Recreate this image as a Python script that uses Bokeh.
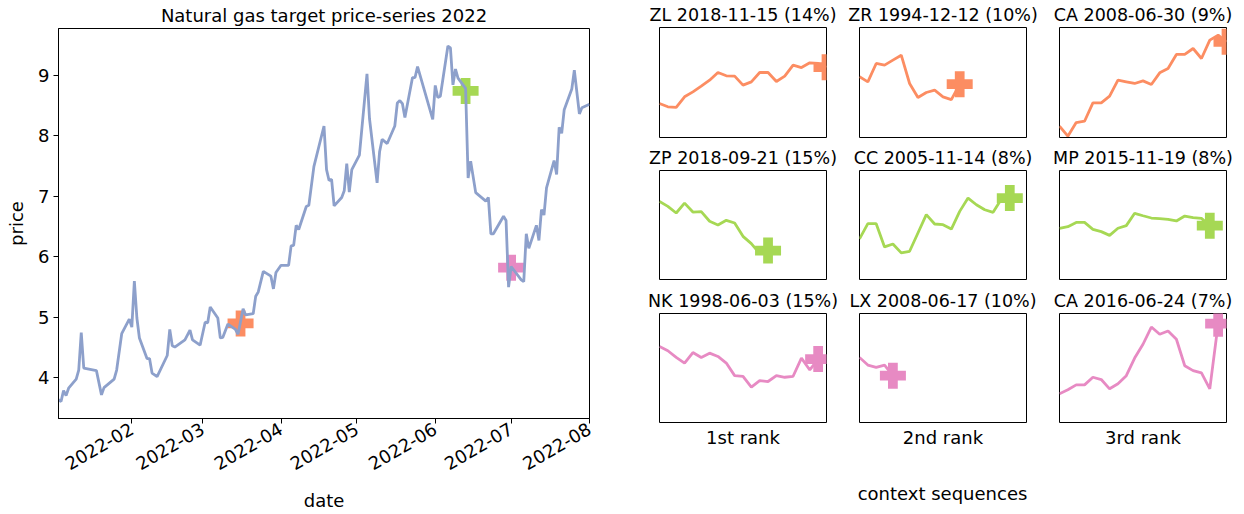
import math
import pandas as pd
from bokeh.plotting import figure
from bokeh.models import Range1d, FixedTicker, DatetimeTickFormatter, Title, Div
from bokeh.layouts import row, column
from bokeh.embed import file_html
from bokeh.resources import INLINE

FONT = "DejaVu Sans"
FS = "18px"
FS_SMALL_TITLE = "17.5px"

# ---------------- main target series ----------------
dates = ["2022-01-03", "2022-01-04", "2022-01-05", "2022-01-06", "2022-01-07", "2022-01-10",
         "2022-01-11", "2022-01-12", "2022-01-13", "2022-01-18", "2022-01-20", "2022-01-21",
         "2022-01-25", "2022-01-26", "2022-01-28", "2022-01-31", "2022-02-01", "2022-02-02",
         "2022-02-03", "2022-02-04", "2022-02-07", "2022-02-08", "2022-02-09", "2022-02-11",
         "2022-02-15", "2022-02-16", "2022-02-17", "2022-02-18", "2022-02-22", "2022-02-24",
         "2022-02-25", "2022-02-28", "2022-03-02", "2022-03-03", "2022-03-04", "2022-03-07",
         "2022-03-08", "2022-03-09", "2022-03-11", "2022-03-14", "2022-03-15", "2022-03-17",
         "2022-03-18", "2022-03-21", "2022-03-22", "2022-03-23", "2022-03-25", "2022-03-28",
         "2022-03-29", "2022-03-30", "2022-04-01", "2022-04-04", "2022-04-05", "2022-04-06",
         "2022-04-07", "2022-04-08", "2022-04-11", "2022-04-12", "2022-04-14", "2022-04-18",
         "2022-04-19", "2022-04-20", "2022-04-21", "2022-04-22", "2022-04-25", "2022-04-26",
         "2022-04-27", "2022-04-28", "2022-04-29", "2022-05-02", "2022-05-05", "2022-05-06",
         "2022-05-09", "2022-05-10", "2022-05-11", "2022-05-13", "2022-05-16", "2022-05-17",
         "2022-05-18", "2022-05-19", "2022-05-20", "2022-05-23", "2022-05-24", "2022-05-25",
         "2022-05-31", "2022-06-01", "2022-06-02", "2022-06-03", "2022-06-06", "2022-06-07",
         "2022-06-08", "2022-06-09", "2022-06-10", "2022-06-13", "2022-06-14", "2022-06-15",
         "2022-06-17", "2022-06-21", "2022-06-22", "2022-06-23", "2022-06-24", "2022-06-28",
         "2022-06-29", "2022-06-30", "2022-07-01", "2022-07-05", "2022-07-06", "2022-07-07",
         "2022-07-08", "2022-07-11", "2022-07-12", "2022-07-13", "2022-07-14", "2022-07-15",
         "2022-07-18", "2022-07-19", "2022-07-20", "2022-07-21", "2022-07-22", "2022-07-25",
         "2022-07-26", "2022-07-28", "2022-07-29", "2022-08-01"]
prices = [3.64, 3.61, 3.79, 3.71, 3.83, 3.98,
          4.13, 4.75, 4.16, 4.12, 3.72, 3.84,
          3.98, 4.13, 4.73, 4.97, 4.84, 5.60,
          4.99, 4.66, 4.32, 4.32, 4.08, 4.02,
          4.37, 4.80, 4.53, 4.51, 4.63, 4.79,
          4.63, 4.54, 4.92, 4.91, 5.17, 4.99,
          4.66, 4.67, 4.89, 4.80, 4.72, 5.14,
          5.04, 5.06, 5.35, 5.42, 5.76, 5.68,
          5.47, 5.74, 5.86, 5.86, 6.18, 6.19,
          6.52, 6.45, 6.83, 6.85, 7.49, 8.16,
          7.44, 7.26, 7.28, 6.84, 6.98, 7.09,
          7.54, 7.07, 7.44, 7.68, 9.02, 8.28,
          7.22, 7.74, 7.94, 7.87, 8.16, 8.54,
          8.58, 8.53, 8.30, 8.96, 8.96, 9.14,
          8.27, 8.83, 8.63, 8.65, 9.48, 9.45,
          8.84, 9.10, 8.95, 8.78, 7.30, 7.58,
          7.06, 6.92, 6.98, 6.38, 6.38, 6.67,
          6.60, 5.50, 5.84, 5.62, 5.59, 6.38,
          6.14, 6.52, 6.27, 6.78, 6.69, 7.14,
          7.59, 7.36, 8.14, 8.04, 8.43, 8.77,
          9.08, 8.36, 8.46, 8.52]

target_dates = ["2022-03-16", "2022-06-13", "2022-07-01"]
target_prices = [4.90, 8.74, 5.82]
rank_colors = ["#fc8d62", "#a6d854", "#e78ac3"]
line_color = "#8da0cb"

month_ticks = ["2022-02-01", "2022-03-01", "2022-04-01", "2022-05-01",
               "2022-06-01", "2022-07-01", "2022-08-01"]
y_ticks = [4, 5, 6, 7, 8, 9]

# ---------------- context sequences (normalised within each panel) ----------------
ctx_titles = [
    ["ZL 2018-11-15 (14%)", "ZR 1994-12-12 (10%)", "CA 2008-06-30 (9%)"],
    ["ZP 2018-09-21 (15%)", "CC 2005-11-14 (8%)", "MP 2015-11-19 (8%)"],
    ["NK 1998-06-03 (15%)", "LX 2008-06-17 (10%)", "CA 2016-06-24 (7%)"],
]
ctx_zl = [0.309, 0.279, 0.273, 0.370, 0.415, 0.467, 0.521, 0.591, 0.561, 0.558,
          0.476, 0.506, 0.591, 0.591, 0.509, 0.558, 0.658, 0.636, 0.679, 0.673, 0.639]
ctx_zr = [0.552, 0.506, 0.673, 0.658, 0.703, 0.748, 0.491, 0.364, 0.409, 0.430,
          0.370, 0.345, 0.485]
ctx_ca08 = [0.103, 0.012, 0.136, 0.148, 0.315, 0.315, 0.376, 0.521, 0.506, 0.491,
            0.515, 0.482, 0.588, 0.627, 0.755, 0.755, 0.809, 0.718, 0.885, 0.930, 0.870]
ctx_zp = [0.716, 0.671, 0.610, 0.701, 0.619, 0.622, 0.534, 0.500, 0.543, 0.518,
          0.396, 0.329, 0.238, 0.265]
ctx_cc = [0.372, 0.512, 0.512, 0.299, 0.326, 0.244, 0.259, 0.427, 0.595, 0.509,
          0.503, 0.463, 0.625, 0.747, 0.686, 0.640, 0.616, 0.738, 0.747]
ctx_mp = [0.470, 0.485, 0.524, 0.524, 0.460, 0.439, 0.405, 0.470, 0.494, 0.607,
          0.585, 0.564, 0.558, 0.552, 0.537, 0.582, 0.567, 0.561, 0.494]
ctx_nk = [0.697, 0.658, 0.597, 0.545, 0.642, 0.597, 0.636, 0.606, 0.545, 0.430,
          0.424, 0.324, 0.385, 0.376, 0.430, 0.415, 0.424, 0.591, 0.482, 0.582]
ctx_lx = [0.597, 0.527, 0.506, 0.527, 0.430]
ctx_ca16 = [0.264, 0.300, 0.345, 0.345, 0.415, 0.394, 0.309, 0.355, 0.430, 0.591,
            0.718, 0.876, 0.809, 0.839, 0.764, 0.521, 0.476, 0.455, 0.309, 0.906]
ctx_values = [[ctx_zl, ctx_zr, ctx_ca08],
              [ctx_zp, ctx_cc, ctx_mp],
              [ctx_nk, ctx_lx, ctx_ca16]]
rank_labels = ["1st rank", "2nd rank", "3rd rank"]
ctx_xlabel = "context sequences"
ctx_len = 20


def style_text(t, size=FS):
    t.text_font = FONT
    t.text_font_size = size
    t.text_font_style = "normal"
    t.text_color = "black"


# ---------------- main figure ----------------
main = figure(width=640, height=514, x_axis_type="datetime",
              x_range=Range1d(pd.Timestamp("2022-01-03"), pd.Timestamp("2022-08-01")),
              y_range=Range1d(3.33, 9.77),
              output_backend="svg", toolbar_location=None,
              min_border_left=58, min_border_right=51, min_border_top=27, min_border_bottom=93)
main.title.text = "Natural gas target price-series 2022"
main.title.align = "center"
main.title.standoff = 5
style_text(main.title)
main.grid.visible = False
main.outline_line_color = "black"
main.outline_line_alpha = 1
main.outline_line_width = 1
main.background_fill_color = "white"
main.border_fill_color = "white"

tick_ms = [int(pd.Timestamp(d).value // 10**6) for d in month_ticks]
main.xaxis.ticker = FixedTicker(ticks=tick_ms)
main.xaxis.formatter = DatetimeTickFormatter(
    years="%Y-%m", months="%Y-%m", days="%Y-%m", hours="%Y-%m", hourmin="%Y-%m",
    minutes="%Y-%m", minsec="%Y-%m", seconds="%Y-%m", milliseconds="%Y-%m",
    microseconds="%Y-%m")
main.xaxis.major_label_orientation = math.pi / 6
main.yaxis.ticker = FixedTicker(ticks=y_ticks)
main.xaxis.axis_label = "date"
main.yaxis.axis_label = "price"
for ax in (main.xaxis[0], main.yaxis[0]):
    ax.axis_line_color = "black"
    ax.major_tick_line_color = "black"
    ax.major_tick_out = 5
    ax.major_tick_in = 0
    ax.minor_tick_out = 0
    ax.minor_tick_in = 0
    ax.major_label_text_font = FONT
    ax.major_label_text_font_size = FS
    ax.major_label_text_color = "black"
    ax.axis_label_text_font = FONT
    ax.axis_label_text_font_size = FS
    ax.axis_label_text_font_style = "normal"
    ax.axis_label_text_color = "black"
    ax.major_label_standoff = 4
main.xaxis.axis_label_standoff = 11
main.yaxis.axis_label_standoff = 8

main.scatter(x=pd.to_datetime(target_dates), y=target_prices, marker="plus", size=26,
             color=rank_colors, line_color=None)
main.line(x=pd.to_datetime(dates), y=prices, line_color=line_color, line_width=2.8)

# ---------------- context panels ----------------
frame_w = 167
col_left = [19, 19, 19]
col_right = [14, 14, 18]
row_top = [27, 27, 27]
row_frame = [110, 109, 109]
row_bottom = [6, 7, 30]

rows = []
for r in range(3):
    figs = []
    for c in range(3):
        vals = ctx_values[r][c]
        xs = list(range(len(vals)))
        p = figure(width=col_left[c] + frame_w + col_right[c],
                   height=row_top[r] + row_frame[r] + row_bottom[r],
                   x_range=Range1d(0, ctx_len), y_range=Range1d(0, 1),
                   x_axis_location=None, y_axis_location=None,
                   output_backend="svg", toolbar_location=None,
                   min_border_left=col_left[c], min_border_right=col_right[c],
                   min_border_top=row_top[r], min_border_bottom=row_bottom[r])
        p.title.text = ctx_titles[r][c]
        p.title.align = "center"
        p.title.standoff = 5
        style_text(p.title, FS_SMALL_TITLE)
        p.grid.visible = False
        p.outline_line_color = "black"
        p.outline_line_alpha = 1
        p.outline_line_width = 1
        p.line(x=xs, y=vals, line_color=rank_colors[r], line_width=2.8)
        p.scatter(x=[xs[-1]], y=[vals[-1]], marker="plus", size=26,
                  color=rank_colors[r], line_color=None)
        if r == 2:
            t = Title(text=rank_labels[c], align="center", standoff=5)
            style_text(t)
            p.add_layout(t, "below")
        figs.append(p)
    rows.append(row(*figs))

grid_w = sum(col_left) + 3 * frame_w + sum(col_right)
grid_h = sum(row_top) + sum(row_frame) + sum(row_bottom)
# centre of the middle column's frame, measured from the grid's left edge
label_center = col_left[0] + frame_w + col_right[0] + col_left[1] + frame_w / 2
label_w = 2 * label_center
label_div = Div(
    text=(f'<div style="display:block;width:{label_w:.0f}px;text-align:center;'
          'font-family:\'DejaVu Sans\';font-size:18px;color:black;padding-top:31px;'
          'line-height:1.2;white-space:nowrap;">' + ctx_xlabel + '</div>'),
    width=grid_w, height=514 - grid_h, margin=0)

layout = row(main, column(*rows, label_div))
open("out.html", "w").write(file_html(layout, INLINE))
